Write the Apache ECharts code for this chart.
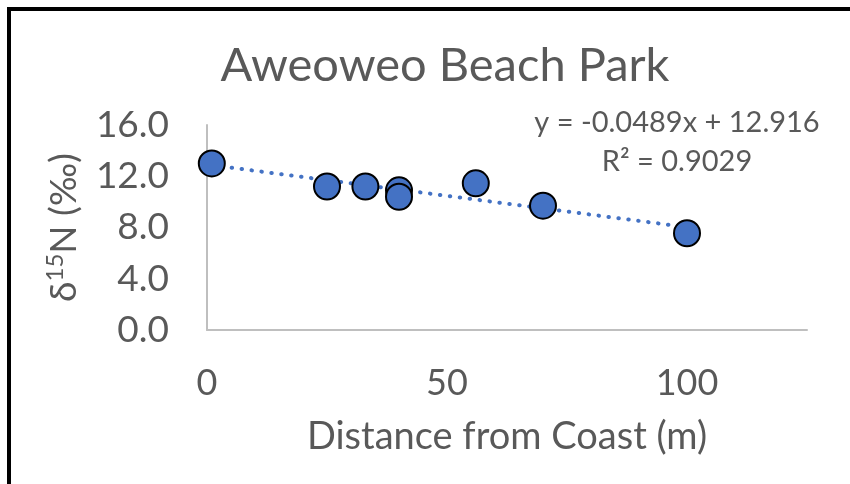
<!DOCTYPE html>
<html>
<head>
<meta charset="utf-8">
<script src="https://cdn.jsdelivr.net/npm/echarts@6/dist/echarts.min.js"></script>
<style>
  html, body { margin: 0; padding: 0; background: #fff; }
  #chart { width: 850px; height: 484px; }
</style>
</head>
<body>
<div id="chart"></div>
<script>
// Sampling sites: distance inland and nitrogen isotope ratio
const distance = [1, 25, 33, 40, 40, 56, 70, 100];
const d15N = [13.0, 11.2, 11.2, 10.9, 10.4, 11.45, 9.7, 7.55];

// Linear trendline as reported
const slope = -0.0489;
const intercept = 12.916;
const rSquared = 0.9029;

const xTicks = { min: 0, max: 125, interval: 50 };
const yTicks = { min: 0, max: 16, interval: 4 };

const FONT = 'Lato';
const TEXT = '#595959';
const BLUE = '#4472C4';

const points = distance.map((x, i) => [x, d15N[i]]);
const xLo = Math.min(...distance), xHi = Math.max(...distance);
const trend = [[xLo, slope * xLo + intercept], [xHi, slope * xHi + intercept]];

const chart = echarts.init(document.getElementById('chart'));
chart.setOption({
  animation: false,
  backgroundColor: '#fff',
  textStyle: { fontFamily: FONT, color: TEXT },
  grid: { left: 207, right: 43, top: 125, bottom: 154, containLabel: false },
  xAxis: {
    type: 'value',
    min: xTicks.min, max: xTicks.max, interval: xTicks.interval,
    name: 'Distance from Coast (m)',
    nameLocation: 'middle',
    nameGap: 88,
    nameTextStyle: { fontFamily: FONT, fontSize: 38, color: TEXT },
    axisLine: { show: true, onZero: false, lineStyle: { color: '#BFBFBF', width: 2 } },
    axisTick: { show: false },
    splitLine: { show: false },
    axisLabel: { fontFamily: FONT, fontSize: 36, color: TEXT, margin: 35, showMaxLabel: false }
  },
  yAxis: {
    type: 'value',
    min: yTicks.min, max: yTicks.max, interval: yTicks.interval,
    name: '{a|δ}{sup|15}{a|N (‰)}',
    nameLocation: 'middle',
    nameRotate: 90,
    nameGap: 122,
    nameTextStyle: {
      color: TEXT,
      rich: {
        a: { fontFamily: FONT, fontSize: 37, color: TEXT, lineHeight: 42 },
        sup: { fontFamily: FONT, fontSize: 24, color: TEXT, lineHeight: 26, verticalAlign: 'top' }
      }
    },
    axisLine: { show: true, lineStyle: { color: '#BFBFBF', width: 2 } },
    axisTick: { show: false },
    splitLine: { show: false },
    axisLabel: {
      fontFamily: FONT, fontSize: 37, color: TEXT, margin: 38,
      formatter: v => v.toFixed(1)
    }
  },
  graphic: [
    {
      type: 'rect', silent: true, z: 100,
      shape: { x: 9, y: 9, width: 1000, height: 700 },
      style: { fill: 'none', stroke: '#000', lineWidth: 4 }
    },
    {
      type: 'text', z: 10,
      x: 445, y: 66,
      style: {
        text: 'Aweoweo Beach Park', fontFamily: FONT, fontSize: 47, fill: TEXT,
        textAlign: 'center', textVerticalAlign: 'middle'
      }
    },
    {
      type: 'text', z: 10,
      x: 677, y: 123,
      style: {
        text: 'y = ' + slope + 'x + ' + intercept, fontFamily: FONT, fontSize: 29, fill: TEXT,
        textAlign: 'center', textVerticalAlign: 'middle'
      }
    },
    {
      type: 'text', z: 10,
      x: 677, y: 162,
      style: {
        text: 'R² = ' + rSquared, fontFamily: FONT, fontSize: 29, fill: TEXT,
        textAlign: 'center', textVerticalAlign: 'middle'
      }
    }
  ],
  series: [
    {
      type: 'line',
      data: trend,
      symbol: 'none',
      z: 1,
      lineStyle: { color: BLUE, width: 4, type: [0.5, 9.5], cap: 'round' }
    },
    {
      type: 'scatter',
      data: points,
      symbol: 'circle',
      symbolSize: 26,
      z: 2,
      itemStyle: { color: BLUE, borderColor: '#000', borderWidth: 2, opacity: 1 }
    }
  ]
});
</script>
</body>
</html>
